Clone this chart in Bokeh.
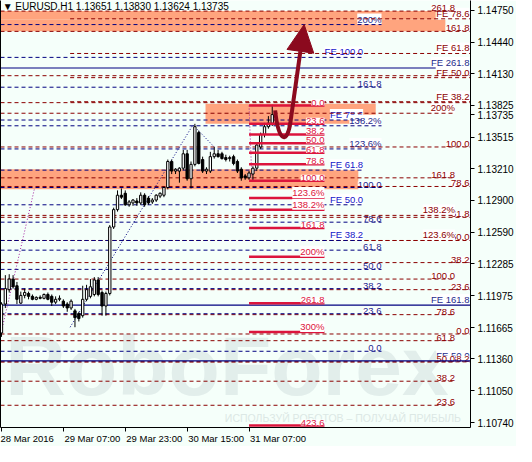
from bokeh.plotting import figure
from bokeh.models import (ColumnDataSource, FixedTicker, PrintfTickFormatter, Label,
                          Arrow, NormalHead, LinearAxis, Range1d)
from bokeh.core.properties import value
from bokeh.embed import file_html
from bokeh.resources import INLINE

# ---------------- data ----------------
bars = list(range(71))
opens = [1.11612,1.11893,1.12033,1.12136,1.12071,1.11902,1.11977,1.11996,1.11968,1.11939,
         1.11958,1.11949,1.11986,1.11968,1.11911,1.11939,1.11921,1.11893,1.11855,1.11827,
         1.11799,1.11780,1.11939,1.11968,1.11986,1.12127,1.12005,1.11874,1.11996,1.12642,
         1.12811,1.12951,1.12970,1.12858,1.12876,1.12895,1.12876,1.12951,1.12923,1.12886,
         1.12904,1.12942,1.12951,1.13026,1.13279,1.13186,1.13186,1.13214,1.13354,1.13111,
         1.13251,1.13560,1.13298,1.13186,1.13186,1.13326,1.13354,1.13354,1.13317,1.13307,
         1.13326,1.13279,1.13204,1.13139,1.13120,1.13157,1.13214,1.13420,1.13542,1.13617,
         1.13651]
highs = [1.11911,1.12174,1.12183,1.12174,1.12108,1.12014,1.12043,1.12014,1.11986,1.11968,
         1.11977,1.11996,1.12005,1.11986,1.11968,1.11977,1.11939,1.11911,1.11939,1.11846,
         1.11818,1.12071,1.12080,1.12136,1.12155,1.12155,1.12024,1.12014,1.12661,1.12830,
         1.12998,1.13017,1.12998,1.12904,1.12914,1.12923,1.12979,1.12970,1.12942,1.12923,
         1.12961,1.12979,1.13036,1.13298,1.13298,1.13214,1.13223,1.13392,1.13392,1.13279,
         1.13645,1.13579,1.13326,1.13223,1.13373,1.13420,1.13392,1.13373,1.13345,1.13335,
         1.13345,1.13298,1.13223,1.13157,1.13186,1.13232,1.13467,1.13560,1.13654,1.13720,
         1.13830]
lows = [1.11574,1.11855,1.12005,1.12043,1.11893,1.11893,1.11949,1.11939,1.11930,1.11930,
        1.11939,1.11939,1.11930,1.11874,1.11893,1.11921,1.11855,1.11818,1.11836,1.11668,
        1.11724,1.11761,1.11921,1.11949,1.11968,1.11968,1.11780,1.11780,1.11977,1.12623,
        1.12792,1.12914,1.12848,1.12839,1.12848,1.12848,1.12858,1.12839,1.12858,1.12867,
        1.12886,1.12923,1.12932,1.13008,1.13157,1.13157,1.13073,1.13195,1.13092,1.13017,
        1.13232,1.13251,1.13167,1.13157,1.13167,1.13307,1.13317,1.13298,1.13279,1.13279,
        1.13242,1.13167,1.13092,1.13101,1.13101,1.13092,1.13186,1.13401,1.13513,1.13598,
        1.13624]
closes = [1.11893,1.12043,1.12136,1.12061,1.11939,1.11977,1.12005,1.11968,1.11939,1.11958,
          1.11949,1.11986,1.11939,1.11911,1.11939,1.11949,1.11874,1.11855,1.11921,1.11761,
          1.11752,1.11939,1.12033,1.12061,1.12127,1.11986,1.11874,1.11996,1.12642,1.12811,
          1.12951,1.12932,1.12858,1.12886,1.12904,1.12876,1.12951,1.12858,1.12876,1.12904,
          1.12951,1.12970,1.13026,1.13279,1.13186,1.13204,1.13214,1.13354,1.13111,1.13251,
          1.13617,1.13260,1.13186,1.13204,1.13326,1.13354,1.13326,1.13307,1.13298,1.13317,
          1.13260,1.13186,1.13120,1.13120,1.13167,1.13214,1.13439,1.13542,1.13617,1.13651,
          1.13735]

x_tick_bars = [0, 16, 32, 48, 64]
x_tick_labels = ["28 Mar 2016", "29 Mar 07:00", "29 Mar 23:00", "30 Mar 15:00", "31 Mar 07:00"]
y_ticks = [1.14750, 1.14440, 1.14130, 1.13825, 1.13515, 1.13210, 1.12900, 1.12590,
           1.12285, 1.11975, 1.11665, 1.11360, 1.11050, 1.10740]
last_price = 1.13735
title_text = "\u25BC EURUSD.H1  1.13651 1.13830 1.13624 1.13735"
wm_big = "RoboForex"
wm_small = "\u0418\u0421\u041f\u041e\u041b\u042c\u0417\u0423\u0419 \u0420\u041e\u0411\u041e\u0422\u041e\u0412 \u2013 \u041f\u041e\u041b\u0423\u0427\u0410\u0419 \u041f\u0420\u0418\u0411\u042b\u041b\u042c"

# red Fibonacci (solid crimson)
red_levels = ["0.0", "23.6", "38.2", "50.0", "61.8", "78.6", "100.0", "123.6%", "138.2%",
              "161.8", "200%", "261.8", "300%", "423.6"]
red_prices = [1.13823, 1.13645, 1.13542, 1.13457, 1.13364, 1.13251, 1.13092, 1.12923,
              1.12811, 1.12633, 1.12352, 1.11902, 1.11621, 1.10712]
red_x = [64, 83.5]

# blue expansion (FE) levels
bfe_levels = ["FE 100.0", "FE 78.6", "FE 61.8", "FE 50.0", "FE 38.2"]
bfe_prices = [1.14291, 1.13682, 1.13195, 1.12858, 1.12511]
bfe_x = [-0.25, 93.5]

# blue retracement levels
blu_levels = ["200%", "161.8", "138.2%", "123.6%", "100.0", "78.6", "61.8", "50.0",
              "38.2", "23.6", "0.0"]
blu_prices = [1.14610, 1.14001, 1.13626, 1.13401, 1.13026, 1.12689, 1.12417, 1.12230,
              1.12043, 1.11799, 1.11434]
blu_x = [-0.25, 98.25]

# navy solid expansion levels
nav_levels = ["FE 261.8", "FE 161.8", "FE 50.0"]
nav_prices = [1.14188, 1.11883, 1.11340]
nav_x_end = [112.25, 121.25, 121.25]

# dark red expansion levels
rfe_levels = ["FE 78.6", "FE 61.8", "FE 50.0", "FE 38.2"]
rfe_prices = [1.14666, 1.14329, 1.14094, 1.13860]
rfe_x = [17.75, 121.25]

# dark red retracement D (labels at right edge)
d_levels = ["161.8", "", "", "100.0", "78.6", "61.8", "50.0", "38.2", "23.6", "0.0"]
d_prices = [1.14544, 1.14113, 1.13851, 1.13420, 1.13036, 1.12736, 1.12511, 1.12296,
            1.12033, 1.11602]
d_x = [-0.25, 121.25]
extra_levels = ["38.2"]
extra_prices = [1.11331]

# dark red retracement C (labels inset)
c_levels = ["261.8", "200%", "161.8", "138.2%", "123.6%", "100.0", "78.6", "61.8", "50.0",
            "38.2", "23.6"]
c_prices = [1.14741, 1.13748, 1.13120, 1.12755, 1.12511, 1.12136, 1.11790, 1.11537,
            1.11331, 1.11143, 1.10909]
c_x = [-0.25, 117.25]

# zones (x0, x1, price0, price1)
zone_x0 = [-0.25, -0.25, 52.75, -0.25]
zone_x1 = [112.25, 114.75, 96.75, 92.25]
zone_p0 = [1.14741, 1.14657, 1.13841, 1.13204]
zone_p1 = [1.14657, 1.14544, 1.13645, 1.13008]

# helper trend lines of the Fibonacci tools
purple1_x = [-1.2, 8.6]
purple1_y = [1.11434, 1.13026]
purple2_x = [64, 64.75]
purple2_y = [1.13823, 1.13092]
navy_tr_x = [17.75, 49.5, 55.0]
navy_tr_y = [1.11668, 1.13635, 1.13420]

# forecast arrow
curve_pts = dict(x0=[70.75], y0=[1.13776], cx0=[71.6], cy0=[1.13480],
                 cx1=[73.6], cy1=[1.13440], x1=[74.6], y1=[1.13635])
arrow_tip = (78.25, 1.14610)

# ---------------- figure ----------------
FONT = "Liberation Sans"
BG = "#F5FFFA"
DRED = "#8B0000"
BLUE = "#1414C8"
NAVYB = "#1E2A8C"
NAVY = "#000080"
CRIMSON = "#DC143C"
SALMON = "#FFA47E"

p = figure(width=516, height=446, x_range=Range1d(-0.25, 121.25),
           y_range=Range1d(1.10693, 1.14844), output_backend="svg",
           toolbar_location=None, y_axis_location="right",
           min_border_left=0, min_border_top=0, min_border_right=0, min_border_bottom=0)
p.background_fill_color = BG
p.border_fill_color = BG
p.outline_line_color = None
p.grid.visible = False

ya = p.yaxis[0]
ya.ticker = FixedTicker(ticks=y_ticks + [last_price])
ya.formatter = PrintfTickFormatter(format="%.5f")
ya.major_tick_out = 4
ya.major_tick_in = 0
ya.minor_tick_out = 0
ya.minor_tick_in = 0
ya.axis_line_color = "black"
ya.major_label_text_font = FONT
ya.major_label_text_font_size = "10px"
ya.major_label_text_color = "black"
ya.major_label_standoff = 3

# MT4 puts the date to the right of its tick: pad on the left with no-break spaces
# (the first label is pushed inside the canvas by Bokeh anyway)
xa = p.xaxis[0]
xa.ticker = FixedTicker(ticks=x_tick_bars)
xa.major_label_overrides = {b: ("\u00a0" * round(len(l) * 1.8) if i > 0 else "") + l
                            for i, (b, l) in enumerate(zip(x_tick_bars, x_tick_labels))}
xa.major_tick_out = 4
xa.major_tick_in = 0
xa.minor_tick_out = 0
xa.minor_tick_in = 0
xa.axis_line_color = "black"
xa.major_label_text_font = FONT
xa.major_label_text_font_size = "9.5px"
xa.major_label_text_color = "black"
xa.major_label_standoff = 1

la = LinearAxis(ticker=FixedTicker(ticks=[]), major_tick_out=0, major_tick_in=0,
                minor_tick_out=0, minor_tick_in=0, major_label_text_font_size="0px",
                axis_line_color="black")
p.add_layout(la, "left")

# watermark
p.text(x=[1.0], y=[1.10830], text=[wm_big], text_font=value(FONT),
       text_font_style="bold", text_font_size="84px", text_color="#E2EEEB",
       text_baseline="bottom", text_align="left")
p.text(x=[57.75], y=[1.10728], text=[wm_small],
       text_font=value(FONT), text_font_size="10.5px", text_color="#DCE8E5",
       text_baseline="bottom", text_align="left")

# zones
p.quad(left=zone_x0, right=zone_x1, bottom=zone_p1, top=zone_p0,
       fill_color=SALMON, line_color=None)


def level_lines(x0, x1, prices, color, dash, width=1):
    src = ColumnDataSource(dict(x0=[x0] * len(prices) if not isinstance(x0, list) else x0,
                                x1=[x1] * len(prices) if not isinstance(x1, list) else x1,
                                y=prices))
    p.segment(x0="x0", y0="y", x1="x1", y1="y", source=src, line_color=color,
              line_dash=dash, line_width=width)


def level_labels(xr, prices, labels, color, size="9.5px"):
    src = ColumnDataSource(dict(x=[xr] * len(prices), y=prices, t=labels))
    p.text(x="x", y="y", text="t", source=src, text_align="right", text_baseline="bottom",
           text_font=value(FONT), text_font_size=size, text_color=color,
           background_fill_color="white")


# labels (drawn below lines, like the reference)
level_labels(93.5, bfe_prices, bfe_levels, BLUE)
level_labels(98.25, blu_prices, blu_levels, NAVYB)
level_labels(121.0, d_prices, d_levels, DRED)
level_labels(121.0, nav_prices, nav_levels, NAVYB)
level_labels(121.0, extra_prices, extra_levels, DRED)
level_labels(121.0, rfe_prices, rfe_levels, DRED)
level_labels(117.25, c_prices, c_levels, DRED)

# lines
level_lines(c_x[0], c_x[1], c_prices, DRED, "4 3")
level_lines(d_x[0], d_x[1], d_prices, DRED, "4 3")
level_lines(d_x[0], d_x[1], extra_prices, DRED, "4 3")
level_lines(rfe_x[0], rfe_x[1], rfe_prices, DRED, "4 3")
level_lines(bfe_x[0], bfe_x[1], bfe_prices, NAVY, "4 3")
level_lines(blu_x[0], blu_x[1], blu_prices, NAVY, "4 3")
level_lines([-0.25] * 3, nav_x_end, nav_prices, NAVY, "solid", 1.2)

# helper trend lines
p.line(purple1_x, purple1_y, line_color="#A020A0", line_dash="1 2", line_width=1)
p.line(purple2_x, purple2_y, line_color="#A020A0", line_dash="1 2", line_width=1)
p.line(navy_tr_x, navy_tr_y, line_color=NAVY, line_dash="1 2", line_width=1)

# candles
top = [max(o, c) for o, c in zip(opens, closes)]
bot = [min(o, c) for o, c in zip(opens, closes)]
fc = ["white" if c >= o else "black" for o, c in zip(opens, closes)]
csrc = ColumnDataSource(dict(x=bars, h=highs, l=lows, top=top, bot=bot, fc=fc))
p.segment(x0="x", y0="l", x1="x", y1="h", source=csrc, line_color="black", line_width=1)
p.vbar(x="x", width=0.6, top="top", bottom="bot", source=csrc, fill_color="fc",
       line_color="black", line_width=1)

# red Fibonacci on top
level_lines(red_x[0], red_x[1], red_prices, CRIMSON, "solid", 2.5)
level_labels(red_x[1], red_prices, red_levels, CRIMSON)

# forecast arrow
p.bezier(source=ColumnDataSource(curve_pts), x0="x0", y0="y0", x1="x1", y1="y1",
         cx0="cx0", cy0="cy0", cx1="cx1", cy1="cy1", line_color="#8B0A1E", line_width=4)
p.add_layout(Arrow(end=NormalHead(size=27, fill_color="#8B0A1E", line_color="#8B0A1E"),
                   x_start=curve_pts["x1"][0], y_start=curve_pts["y1"][0],
                   x_end=arrow_tip[0], y_end=arrow_tip[1],
                   line_color="#8B0A1E", line_width=4))

# title
p.add_layout(Label(x=0.3, y=1.14836, text=title_text, text_font=FONT, text_font_size="10px",
                   text_color="black", text_baseline="top", text_align="left"))

open("out.html", "w").write(file_html(p, INLINE))
